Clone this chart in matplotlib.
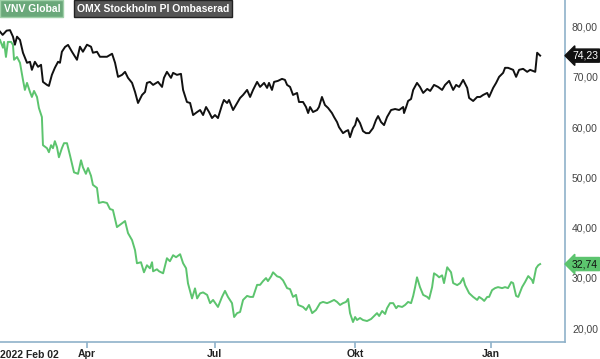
# VNV Global vs OMX Stockholm PI (rebased), Feb 2022 - Feb 2023
import matplotlib
matplotlib.use("Agg")
import matplotlib.pyplot as plt
from matplotlib.ticker import FuncFormatter

plt.rcParams['font.family'] = ['Liberation Sans', 'DejaVu Sans']

# trading days counted from 2022-02-02
omx_days = [1.1, 2.35, 4.2, 5.8, 7.2, 8.1, 9.1, 10.5, 11.9, 13.8, 15.2, 16.1, 17.5, 19.0,
            20.4, 21.3, 23.2, 24.1, 25.5, 26.9, 28.4, 29.3, 30.2, 31.7, 33.1, 35.0, 37.3,
            38.7, 40.1, 42.0, 43.9, 44.8, 46.7, 48.1, 51.4, 53.8, 55.2, 56.6, 58.5, 59.9,
            61.3, 63.2, 64.6, 66.0, 67.9, 69.3, 70.2, 71.6, 73.1, 75.4, 77.3, 78.2, 79.6,
            81.5, 82.5, 84.3, 86.2, 87.2, 89.0, 90.5, 91.9, 93.8, 95.2, 96.6, 98.0, 99.4,
            100.8, 102.2, 103.6, 105.5, 106.4, 107.9, 108.8, 110.7, 112.6, 114.0, 115.4,
            117.3, 118.7, 120.1, 122.0, 123.4, 125.3, 126.7, 127.6, 129.0, 130.0, 131.8,
            133.7, 135.1, 136.1, 137.5, 138.9, 140.8, 141.7, 143.6, 145.0, 146.0, 146.9,
            148.3, 150.2, 151.1, 152.5, 153.9, 155.4, 157.2, 158.2, 159.6, 160.5, 162.4,
            163.8, 164.8, 165.7, 167.1, 168.1, 169.0, 170.4, 171.8, 173.2, 174.7, 176.5,
            177.9, 178.9, 180.3, 181.7, 183.1, 185.0, 186.9, 188.8, 190.7, 191.1, 192.1,
            193.0, 194.4, 195.4, 197.2, 198.6, 200.1, 202.0, 203.4, 205.2, 207.1, 209.0,
            210.4, 212.3, 214.2, 215.6, 217.0, 218.9, 220.8, 221.7, 223.6, 225.5, 226.9,
            228.3, 230.2, 231.1, 233.0, 234.4, 235.8, 237.7, 238.6, 240.0, 242.4, 243.8,
            245.2, 247.1, 249.0, 250.4, 252.8, 253.7, 255.1]
omx_vals = [79.0, 78.35, 79.2, 79.3, 78.0, 76.4, 78.0, 77.35, 74.8, 72.8, 73.0, 71.4, 73.0,
            72.0, 72.4, 69.0, 68.4, 68.2, 70.4, 71.8, 73.0, 72.8, 75.0, 75.96, 76.36, 74.96,
            73.4, 76.0, 75.0, 76.4, 76.0, 74.8, 75.0, 74.0, 74.0, 74.6, 72.8, 70.0, 70.4,
            71.0, 69.8, 68.8, 67.0, 64.8, 66.4, 67.0, 68.8, 69.0, 68.4, 69.0, 68.0, 69.8,
            71.0, 69.8, 70.8, 70.4, 70.6, 67.4, 65.0, 64.8, 62.4, 63.0, 63.4, 62.4, 64.0,
            63.0, 61.8, 62.4, 61.8, 64.4, 65.4, 64.8, 65.4, 63.4, 64.8, 65.8, 66.4, 67.4,
            66.0, 67.4, 69.0, 68.0, 68.8, 67.8, 68.8, 67.4, 69.0, 69.2, 69.6, 69.4, 68.4,
            68.0, 66.4, 66.8, 65.0, 65.0, 64.0, 62.8, 64.0, 63.0, 63.4, 64.0, 66.0, 64.4,
            63.8, 62.8, 62.0, 61.0, 60.0, 58.8, 59.2, 59.4, 58.0, 59.8, 60.4, 61.8, 60.8,
            59.2, 58.8, 58.8, 59.8, 61.4, 62.2, 61.0, 60.4, 62.0, 63.4, 63.6, 63.4, 64.0,
            62.8, 64.0, 65.2, 65.6, 67.4, 68.8, 68.0, 66.8, 67.6, 67.2, 68.4, 68.0, 67.4,
            68.4, 69.2, 67.4, 68.4, 68.0, 69.4, 67.8, 65.8, 65.2, 66.0, 66.0, 66.4, 66.8,
            66.0, 67.8, 68.8, 70.0, 70.8, 71.8, 71.8, 71.4, 70.0, 71.4, 71.6, 71.0, 71.4,
            71.0, 74.8, 74.23]

vnv_days = [1.1, 2.5, 3.0, 3.9, 4.8, 6.3, 7.2, 7.7, 9.1, 10.5, 11.9, 12.8, 13.8, 15.2, 16.1,
            17.1, 18.5, 19.4, 20.8, 21.3, 23.2, 24.1, 25.1, 26.0, 26.9, 27.9, 28.8, 30.2,
            31.2, 32.6, 34.0, 35.9, 37.8, 39.2, 40.1, 41.5, 42.5, 43.9, 44.8, 46.7, 47.6,
            49.5, 51.4, 52.8, 54.2, 56.1, 58.0, 59.9, 61.3, 63.2, 64.6, 65.5, 67.4, 68.8,
            70.2, 71.6, 72.6, 73.1, 74.9, 75.9, 77.8, 79.6, 81.0, 82.5, 83.9, 85.8, 87.2,
            88.6, 89.5, 91.4, 92.8, 93.8, 95.2, 96.6, 98.5, 99.9, 101.3, 103.6, 105.5, 106.9,
            108.3, 110.2, 111.2, 112.6, 114.0, 115.4, 117.3, 118.7, 120.1, 122.0, 123.4,
            124.8, 126.2, 127.1, 128.6, 129.5, 131.4, 132.8, 134.2, 136.1, 137.5, 138.9,
            140.3, 141.3, 143.6, 145.0, 146.4, 147.9, 149.7, 151.6, 153.0, 154.9, 156.3,
            158.2, 159.6, 161.0, 162.4, 163.8, 164.8, 165.7, 167.1, 168.1, 169.0, 170.4,
            171.8, 173.7, 175.6, 177.0, 178.4, 179.4, 180.8, 182.2, 183.1, 184.5, 186.0,
            187.4, 188.3, 190.2, 191.6, 193.0, 194.4, 195.4, 196.3, 197.2, 198.6, 200.1,
            202.0, 202.9, 204.3, 205.2, 206.6, 207.6, 209.0, 209.9, 211.4, 213.2, 214.2,
            216.1, 217.5, 218.9, 219.8, 221.7, 223.6, 225.5, 226.4, 227.8, 228.8, 230.2,
            231.1, 232.5, 233.9, 235.3, 237.2, 238.6, 240.0, 241.5, 242.4, 243.8, 244.8,
            246.6, 248.0, 249.5, 251.3, 251.8, 253.2, 254.2, 255.1]
vnv_vals = [77.35, 75.8, 76.96, 73.96, 76.96, 76.96, 76.36, 73.4, 73.96, 72.8, 69.4, 67.4,
            68.8, 67.0, 66.0, 67.2, 66.0, 63.8, 62.0, 56.4, 55.8, 55.0, 56.4, 55.8, 57.2,
            56.0, 54.0, 55.8, 56.8, 56.8, 54.4, 51.0, 50.7, 53.4, 52.0, 50.7, 51.85, 50.3,
            48.5, 47.9, 44.9, 45.1, 44.9, 43.7, 43.5, 40.1, 40.7, 41.3, 38.9, 37.5, 35.5,
            32.9, 33.1, 31.1, 32.5, 31.9, 33.1, 31.3, 31.7, 31.3, 30.9, 33.9, 33.3, 34.5,
            34.1, 34.7, 32.9, 31.9, 28.9, 25.9, 27.9, 25.9, 26.9, 27.1, 26.6, 24.96, 25.6,
            24.2, 26.2, 27.4, 26.2, 24.96, 22.2, 22.97, 23.2, 25.6, 26.4, 26.2, 26.2, 28.6,
            28.6, 29.35, 29.95, 29.35, 30.3, 31.1, 30.3, 30.1, 29.5, 27.95, 27.75, 26.2,
            26.6, 24.6, 24.2, 23.6, 24.6, 22.97, 23.6, 24.96, 25.2, 24.96, 25.2, 25.6, 25.2,
            24.6, 24.96, 25.2, 25.8, 22.97, 21.2, 22.2, 21.6, 22.0, 21.6, 21.4, 21.8, 22.4,
            22.97, 22.4, 23.4, 22.8, 23.95, 24.96, 24.96, 23.95, 24.4, 24.2, 24.6, 25.2,
            24.96, 26.4, 28.15, 30.1, 28.15, 26.6, 26.2, 25.8, 28.15, 30.9, 30.5, 30.1,
            30.5, 28.95, 32.1, 31.1, 28.95, 28.55, 28.95, 29.95, 28.55, 26.95, 26.2, 25.6,
            26.2, 25.8, 25.4, 26.2, 26.2, 27.55, 27.95, 28.15, 27.95, 28.15, 27.95, 29.15,
            28.95, 26.4, 26.2, 28.15, 29.15, 30.35, 29.55, 28.95, 31.9, 32.5, 32.74]

tick_days = [42, 102, 168, 232]
tick_labels = ['Apr', 'Jul', 'Okt', 'Jan']
y_ticks = [20, 30, 40, 50, 60, 70, 80]

green = '#5cc46e'
axis_blue = '#8fb1c9'

fig = plt.figure(figsize=(6, 3.59), dpi=100)
ax = fig.add_axes([0.0, 0.047, 0.9417, 0.953])

ax.plot(vnv_days, vnv_vals, color=green, lw=1.4, solid_joinstyle='round')
ax.plot(omx_days, omx_vals, color='#111111', lw=1.4, solid_joinstyle='round')

ax.set_xlim(1.1, 266.8)
ax.set_ylim(17.2, 85.3)

for side in ['top', 'left']:
    ax.spines[side].set_visible(False)
for side in ['right', 'bottom']:
    ax.spines[side].set_color(axis_blue)
    ax.spines[side].set_linewidth(1.2)

ax.yaxis.tick_right()
ax.set_yticks(y_ticks)
ax.yaxis.set_major_formatter(FuncFormatter(lambda v, p: f"{v:.2f}".replace('.', ',')))
ax.tick_params(axis='y', length=0, pad=5, labelsize=7.5, labelcolor='#444444')

ax.set_xticks(tick_days)
ax.set_xticklabels(tick_labels, fontweight='bold')
ax.tick_params(axis='x', length=4, width=1.2, color=axis_blue, pad=1,
               labelsize=7.5, labelcolor='#222222')

ax.text(0.0, -0.022, '2022 Feb 02', transform=ax.transAxes, ha='left', va='top',
        fontsize=7.5, fontweight='bold', color='#222222')

# legend boxes at top left
fig.text(0.006, 0.976, 'VNV Global', ha='left', va='center', fontsize=7.5,
         fontweight='bold', color='white',
         bbox=dict(boxstyle='square,pad=0.3', fc='#6aa87a', ec='#9fd0a8', lw=1))
fig.text(0.128, 0.976, 'OMX Stockholm PI Ombaserad', ha='left', va='center',
         fontsize=7.5, fontweight='bold', color='white',
         bbox=dict(boxstyle='square,pad=0.3', fc='#555555', ec='#222222', lw=1))

# last value tags on the right axis
ax.annotate(f"{omx_vals[-1]:.2f}".replace('.', ','), xy=(1.0, omx_vals[-1]),
            xycoords=('axes fraction', 'data'), xytext=(5, 0), textcoords='offset points',
            ha='left', va='center', fontsize=7.5, color='white',
            bbox=dict(boxstyle='larrow,pad=0.15', fc='#111111', ec='#111111'),
            annotation_clip=False)
ax.annotate(f"{vnv_vals[-1]:.2f}".replace('.', ','), xy=(1.0, vnv_vals[-1]),
            xycoords=('axes fraction', 'data'), xytext=(5, 0), textcoords='offset points',
            ha='left', va='center', fontsize=7.5, color='#111111',
            bbox=dict(boxstyle='larrow,pad=0.15', fc=green, ec=green),
            annotation_clip=False)

fig.savefig('out.png', dpi=100)
